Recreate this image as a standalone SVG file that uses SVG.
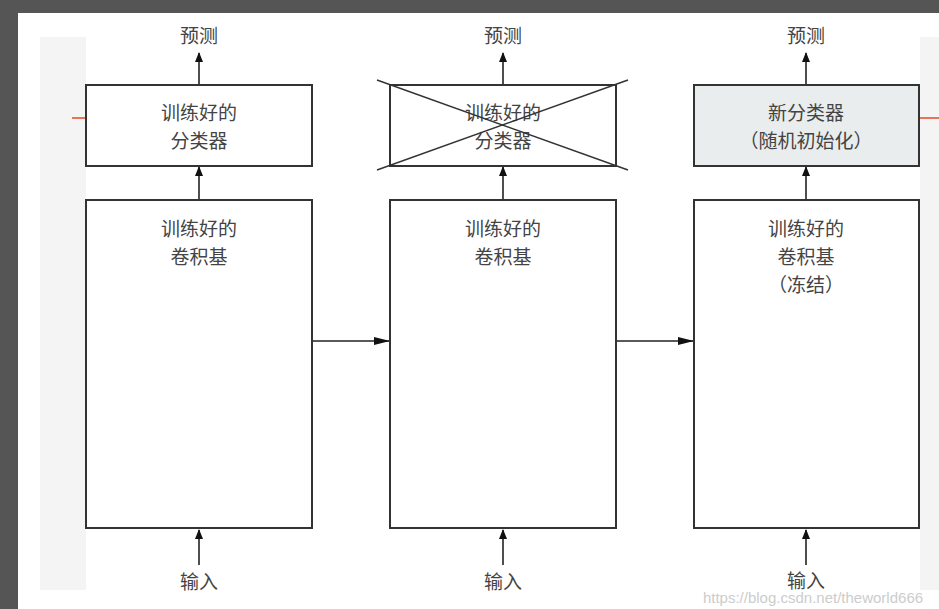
<svg xmlns="http://www.w3.org/2000/svg" width="939" height="609" viewBox="0 0 939 609">
<style>
.b{fill:#fff;stroke:#333;stroke-width:2}
.l{stroke:#222;stroke-width:1.6;fill:none}
text{font-family:"Noto Sans CJK SC","Liberation Sans",sans-serif;font-size:19px;fill:#444;text-anchor:middle}
</style>
<defs><marker id="a" markerWidth="10" markerHeight="10" refX="9" refY="5" orient="auto" markerUnits="userSpaceOnUse" viewBox="0 0 10 10"><path d="M0,1 L10,5 L0,9 Z" fill="#111"/></marker>
<marker id="h" markerWidth="16" markerHeight="10" refX="15" refY="5" orient="auto" markerUnits="userSpaceOnUse" viewBox="0 0 16 10"><path d="M0,1 L16,5 L0,9 Z" fill="#111"/></marker></defs>
<rect width="939" height="609" fill="#fff"/>
<rect x="0" y="0" width="939" height="13" fill="#555"/>
<rect x="0" y="0" width="18" height="609" fill="#555"/>
<rect x="40" y="37" width="46" height="553" fill="#f4f4f4"/>
<rect x="920" y="37" width="19" height="553" fill="#f4f4f4"/>
<line x1="72" y1="118" x2="86" y2="118" stroke="#e04a2a" stroke-width="1.5"/>
<line x1="920" y1="118" x2="939" y2="118" stroke="#e04a2a" stroke-width="1.5"/>
<g id="connectors">
<line class="l" x1="199" y1="85" x2="199" y2="53" marker-end="url(#a)"/>
<line class="l" x1="503" y1="85" x2="503" y2="53" marker-end="url(#a)"/>
<line class="l" x1="806" y1="85" x2="806" y2="53" marker-end="url(#a)"/>
<line class="l" x1="199" y1="200" x2="199" y2="167" marker-end="url(#a)"/>
<line class="l" x1="503" y1="200" x2="503" y2="167" marker-end="url(#a)"/>
<line class="l" x1="806" y1="200" x2="806" y2="167" marker-end="url(#a)"/>
<line class="l" x1="199" y1="565" x2="199" y2="530" marker-end="url(#a)"/>
<line class="l" x1="503" y1="565" x2="503" y2="530" marker-end="url(#a)"/>
<line class="l" x1="806" y1="565" x2="806" y2="530" marker-end="url(#a)"/>
<line class="l" x1="312" y1="341" x2="389" y2="341" marker-end="url(#h)"/>
<line class="l" x1="616" y1="341" x2="693" y2="341" marker-end="url(#h)"/>
</g>
<g id="labels">
<text x="199" y="43">预测</text><text x="503" y="43">预测</text><text x="806" y="43">预测</text>
<text x="199" y="589">输入</text><text x="503" y="589">输入</text><text x="806" y="588">输入</text>
</g>
<g id="cls1"><rect class="b" x="86" y="85" width="226" height="81"/><text x="199" y="120">训练好的</text><text x="199" y="148">分类器</text></g>
<g id="cls2"><rect class="b" x="390" y="85" width="226" height="81"/><text x="503" y="120">训练好的</text><text x="503" y="148">分类器</text>
<line x1="377" y1="80" x2="628" y2="170" stroke="#333" stroke-width="1.5"/><line x1="377" y1="170" x2="628" y2="80" stroke="#333" stroke-width="1.5"/></g>
<g id="cls3"><rect class="b" x="694" y="85" width="225" height="81" style="fill:#e9eded"/><text x="806" y="120">新分类器</text><text x="806" y="148">（随机初始化）</text></g>
<g id="conv1"><rect class="b" x="86" y="200" width="226" height="328"/><text x="199" y="236">训练好的</text><text x="199" y="264">卷积基</text></g>
<g id="conv2"><rect class="b" x="390" y="200" width="226" height="328"/><text x="503" y="236">训练好的</text><text x="503" y="264">卷积基</text></g>
<g id="conv3"><rect class="b" x="694" y="200" width="225" height="328"/><text x="806" y="236">训练好的</text><text x="806" y="264">卷积基</text><text x="806" y="292">（冻结）</text></g>
<text x="813" y="603" style="font-family:'Liberation Sans',sans-serif;font-size:15px;fill:#ccc">https://blog.csdn.net/theworld666</text>
</svg>
